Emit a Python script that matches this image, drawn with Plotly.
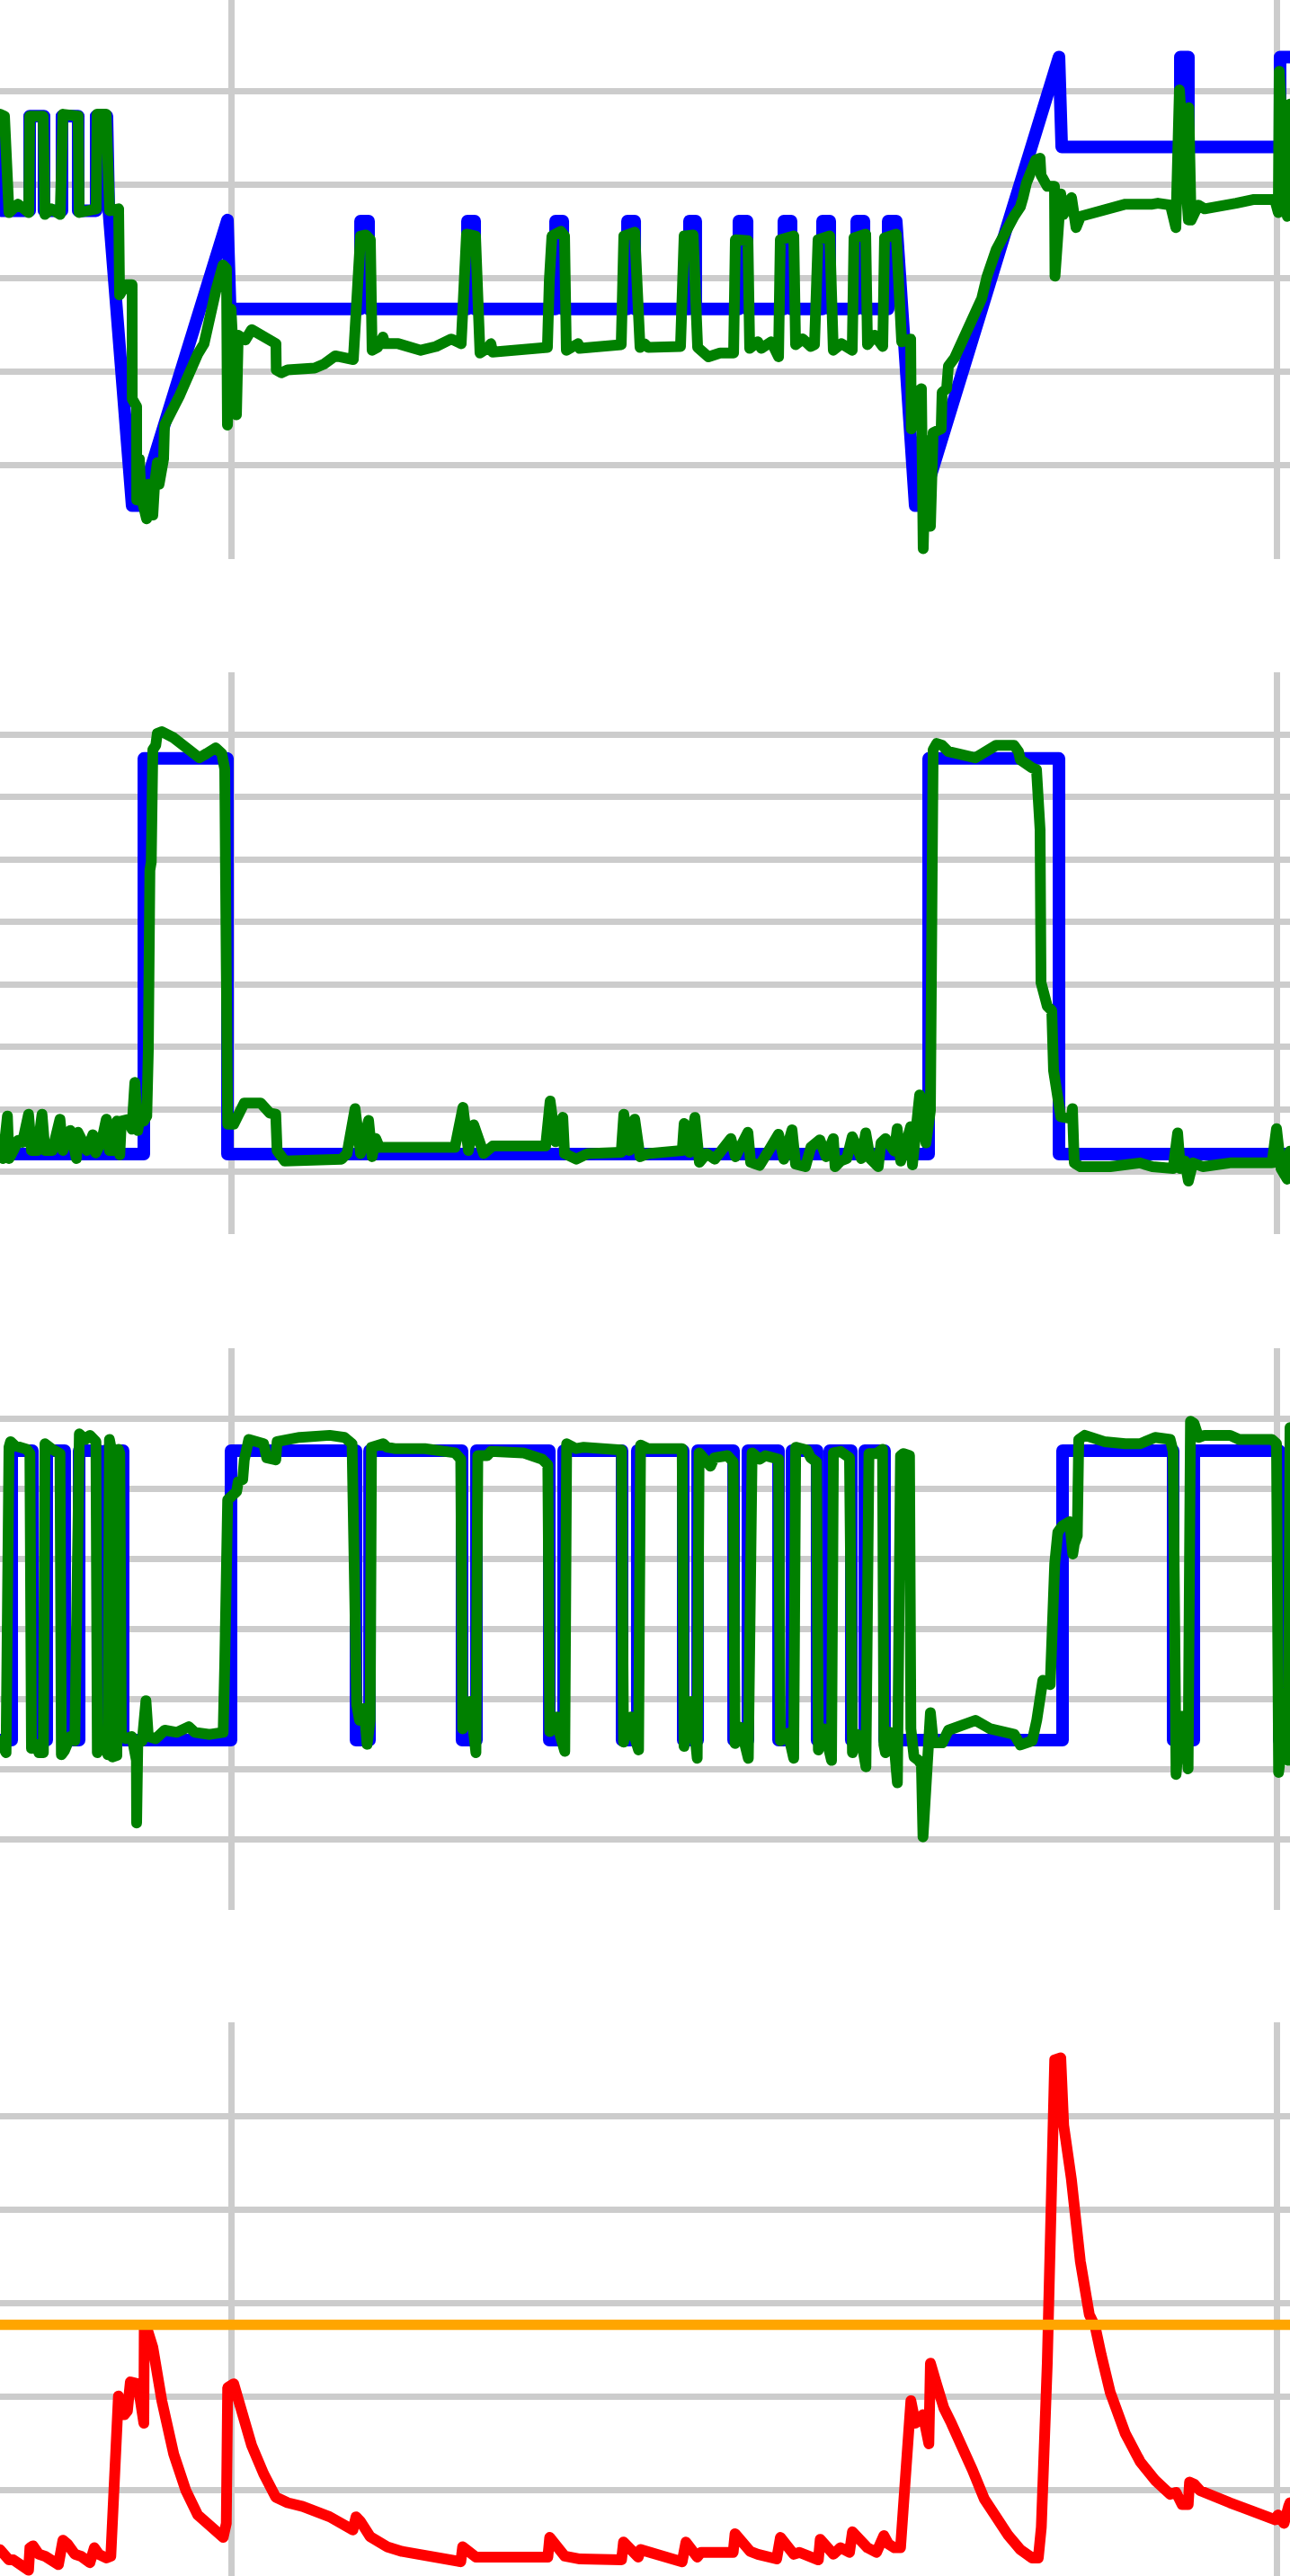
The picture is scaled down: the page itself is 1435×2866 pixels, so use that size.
import plotly.graph_objects as go

# ---------------- time axis (s) ----------------
T_RANGE = [77.82, 201.23]

# ---------------- panel 1 : setpoint (blue) and response (green) ----------------
setpoint1 = [(77.82, 4.73), (77.91, 3.72), (80.66, 3.72), (80.66, 4.73), (82.03, 4.73), (82.03, 3.72),
             (83.75, 3.72), (83.75, 4.73), (85.30, 4.73), (85.30, 3.72), (87.02, 3.72), (87.02, 4.73),
             (88.05, 4.73), (88.23, 3.72), (90.46, 0.57), (91.15, 0.57), (99.58, 3.62), (99.84, 2.67),
             (112.31, 2.67), (112.31, 3.61), (113.08, 3.61), (113.08, 2.67), (122.54, 2.67), (122.54, 3.61),
             (123.23, 3.61), (123.23, 2.67), (130.97, 2.67), (130.97, 3.61), (131.66, 3.61), (131.66, 2.67),
             (137.85, 2.67), (137.85, 3.61), (138.54, 3.61), (138.54, 2.67), (143.78, 2.67), (143.78, 3.61),
             (144.38, 3.61), (144.38, 2.67), (148.51, 2.67), (148.51, 3.61), (149.29, 3.61), (149.29, 2.67),
             (152.81, 2.67), (152.81, 3.61), (153.50, 3.61), (153.50, 2.67), (156.51, 2.67), (156.51, 3.61),
             (157.20, 3.61), (157.20, 2.67), (159.78, 2.67), (159.78, 3.61), (160.47, 3.61), (160.47, 2.67),
             (162.79, 2.67), (162.79, 3.61), (163.56, 3.61), (165.37, 0.57), (165.97, 0.57), (179.13, 5.36),
             (179.39, 4.40), (190.74, 4.40), (190.74, 5.36), (191.51, 5.36), (191.51, 4.40), (200.28, 4.40),
             (200.28, 5.36), (201.23, 5.36)]

t_resp1 = [77.82, 78.25, 78.68, 79.54, 80.57, 80.66, 81.95, 82.12, 82.72, 83.58,
           83.84, 85.30, 85.39, 86.42, 87.02, 87.11, 87.97, 88.31, 89.17, 89.26,
           89.86, 90.46, 90.47, 90.89, 90.90, 91.15, 91.32, 91.84, 92.01, 92.44,
           92.61, 92.87, 93.04, 93.47, 93.56, 93.99, 95.02, 96.74, 97.34, 98.46,
           99.15, 99.49, 99.58, 99.92, 100.44, 100.61, 101.30, 101.90, 102.76, 103.61,
           104.22, 104.25, 104.74, 105.34, 107.92, 108.78, 109.90, 111.62, 111.96, 112.31,
           112.82, 113.25, 113.42, 113.94, 114.46, 114.63, 115.92, 118.07, 119.53, 120.99,
           121.94, 122.11, 122.45, 123.31, 123.74, 124.43, 124.78, 124.95, 129.33, 130.19,
           130.37, 130.62, 131.48, 131.83, 132.00, 133.12, 133.29, 137.25, 137.50, 138.02,
           138.54, 139.05, 139.48, 139.83, 142.92, 143.27, 144.13, 144.56, 145.59, 146.71,
           148.00, 148.17, 149.37, 149.54, 150.32, 150.66, 151.61, 152.30, 152.47, 153.76,
           153.93, 154.62, 155.39, 155.74, 156.08, 157.20, 157.54, 158.32, 159.35, 159.52,
           160.64, 160.81, 161.50, 162.27, 162.44, 163.56, 164.08, 164.94, 165.00, 165.54,
           165.97, 166.14, 166.40, 166.83, 167.09, 167.86, 167.95, 168.38, 168.55, 169.15,
           170.87, 171.73, 172.25, 173.11, 174.83, 175.43, 175.69, 176.03, 176.89, 177.32,
           177.41, 178.01, 178.70, 178.75, 179.30, 179.56, 180.33, 180.76, 181.19, 182.57,
           185.49, 188.07, 188.59, 189.79, 190.31, 190.65, 191.51, 191.55, 191.77, 192.46,
           193.06, 196.07, 197.79, 199.77, 200.11, 200.20, 200.97, 201.23]
v_resp1 = [4.75, 4.73, 3.70, 3.79, 3.70, 4.73, 4.73, 3.68, 3.74, 3.68,
           4.75, 4.73, 3.70, 3.74, 3.74, 4.75, 4.75, 3.72, 3.74, 2.82,
           2.93, 2.93, 1.71, 1.63, 0.63, 1.07, 0.67, 0.43, 0.80, 0.47,
           0.80, 1.03, 0.80, 1.07, 1.43, 1.51, 1.75, 2.19, 2.30, 2.86,
           3.14, 3.10, 1.43, 2.67, 1.54, 2.39, 2.34, 2.45, 2.39, 2.36,
           2.30, 2.02, 1.99, 2.02, 2.04, 2.08, 2.17, 2.13, 3.06, 3.45,
           3.46, 3.41, 2.23, 2.26, 2.37, 2.30, 2.30, 2.23, 2.27, 2.35,
           2.30, 2.93, 3.47, 3.45, 2.20, 2.25, 2.30, 2.21, 2.25, 2.26,
           2.97, 3.45, 3.50, 3.45, 2.23, 2.30, 2.25, 2.29, 3.45, 3.46,
           3.49, 2.26, 2.30, 2.26, 2.27, 3.45, 3.46, 2.26, 2.16, 2.20,
           2.20, 3.41, 3.40, 2.25, 2.32, 2.25, 2.32, 2.16, 3.41, 3.45,
           2.29, 2.35, 2.27, 2.29, 3.41, 3.45, 2.23, 2.30, 2.23, 3.43,
           3.47, 2.29, 2.39, 2.27, 3.43, 3.47, 2.32, 2.35, 1.39, 1.78,
           1.82, 0.11, 1.27, 0.35, 1.35, 1.39, 1.78, 1.82, 2.06, 2.15,
           2.54, 2.78, 3.02, 3.30, 3.66, 3.76, 3.86, 4.02, 4.26, 4.28,
           4.10, 3.98, 3.98, 3.02, 3.90, 3.68, 3.86, 3.54, 3.66, 3.70,
           3.79, 3.79, 3.80, 3.78, 3.54, 5.01, 3.62, 4.82, 3.62, 3.78,
           3.74, 3.80, 3.84, 3.84, 3.70, 5.21, 3.66, 4.86]

# ---------------- panel 2 ----------------
t_cmd2 = [77.82, 91.58, 99.58, 166.66, 179.13, 201.23]
v_cmd2 = [1.28, 7.62, 1.28, 7.62, 1.28, 1.28]

t_resp2 = [77.82, 78.10, 78.53, 78.68, 79.11, 79.54, 79.97, 80.55, 80.83, 81.41,
           81.84, 82.12, 82.83, 83.26, 83.56, 83.84, 84.55, 85.13, 85.28, 86.14,
           86.70, 86.99, 87.56, 87.99, 88.29, 88.72, 89.00, 89.28, 89.43, 90.14,
           90.44, 90.72, 91.00, 91.30, 91.58, 91.86, 92.01, 92.16, 92.29, 92.44,
           92.72, 92.87, 93.30, 94.44, 95.73, 96.89, 97.60, 98.46, 99.04, 99.32,
           99.47, 99.60, 100.18, 100.76, 101.19, 102.76, 103.04, 103.62, 104.20, 104.33,
           105.06, 109.36, 110.50, 111.02, 111.79, 112.31, 113.08, 113.42, 113.77, 114.11,
           117.72, 121.34, 122.11, 122.63, 123.14, 123.57, 124.09, 124.95, 130.02, 130.45,
           130.97, 131.66, 131.83, 132.95, 134.06, 137.25, 137.50, 138.02, 138.54, 139.05,
           139.83, 143.09, 143.27, 143.78, 144.30, 144.73, 145.42, 146.19, 147.74, 148.17,
           149.37, 149.63, 150.49, 151.01, 152.30, 152.81, 153.59, 153.93, 154.88, 155.39,
           156.25, 156.85, 157.54, 157.71, 158.23, 158.83, 159.35, 159.78, 160.21, 160.64,
           161.07, 161.84, 162.10, 162.53, 162.96, 163.39, 163.65, 163.99, 164.42, 164.94,
           165.11, 165.37, 165.80, 166.40, 166.83, 167.00, 167.09, 167.43, 167.95, 168.55,
           171.13, 173.11, 174.83, 175.26, 175.43, 176.55, 176.98, 177.32, 177.41, 178.01,
           178.44, 178.61, 179.04, 179.30, 180.33, 180.42, 180.59, 181.19, 184.03, 186.87,
           188.07, 189.19, 190.05, 190.48, 190.74, 191.17, 191.51, 191.94, 192.89, 195.47,
           199.51, 199.94, 200.37, 200.97, 201.23]
v_resp2 = [1.40, 1.21, 1.89, 1.21, 1.34, 1.50, 1.47, 1.92, 1.34, 1.34,
           1.92, 1.34, 1.34, 1.59, 1.84, 1.34, 1.66, 1.21, 1.63, 1.34,
           1.59, 1.30, 1.50, 1.84, 1.34, 1.34, 1.81, 1.27, 1.81, 1.84,
           1.68, 2.43, 1.66, 1.97, 1.81, 1.89, 2.94, 5.83, 5.96, 7.76,
           7.83, 8.02, 8.05, 7.95, 7.76, 7.63, 7.70, 7.79, 7.70, 7.45,
           4.23, 1.76, 1.76, 2.02, 2.10, 2.10, 2.02, 1.94, 1.92, 1.34,
           1.17, 1.17, 1.20, 1.29, 2.01, 1.29, 1.82, 1.24, 1.53, 1.39,
           1.41, 1.39, 2.03, 1.34, 1.75, 1.58, 1.29, 1.41, 1.41, 2.13,
           1.48, 1.87, 1.29, 1.20, 1.29, 1.31, 1.92, 1.34, 1.84, 1.24,
           1.29, 1.34, 1.77, 1.31, 1.87, 1.15, 1.29, 1.20, 1.53, 1.24,
           1.63, 1.15, 1.10, 1.24, 1.60, 1.20, 1.67, 1.12, 1.08, 1.39,
           1.51, 1.24, 1.53, 1.08, 1.17, 1.21, 1.56, 1.40, 1.21, 1.62,
           1.21, 1.08, 1.46, 1.53, 1.40, 1.33, 1.69, 1.17, 1.40, 1.72,
           1.11, 1.72, 2.23, 1.46, 1.98, 5.83, 7.76, 7.86, 7.83, 7.73,
           7.63, 7.83, 7.83, 7.73, 7.60, 7.47, 7.44, 6.48, 4.03, 3.65,
           3.58, 2.62, 2.11, 1.88, 1.85, 2.01, 1.14, 1.08, 1.08, 1.14,
           1.08, 1.05, 1.05, 1.62, 1.05, 1.17, 0.85, 1.14, 1.08, 1.14,
           1.14, 1.69, 1.05, 0.88, 1.33]

# ---------------- panel 3 ----------------
t_cmd3 = [77.82, 78.94, 80.92, 82.29, 84.01, 85.39, 87.28, 87.97, 89.60, 99.92,
          111.88, 113.17, 122.02, 123.40, 130.37, 131.74, 137.33, 138.79, 143.18, 144.56,
          148.00, 149.37, 152.30, 153.59, 155.99, 157.20, 159.26, 160.55, 162.44, 179.47,
          190.05, 192.03, 200.20, 201.23]
v_cmd3 = [2.42, 6.54, 2.42, 6.54, 2.42, 6.54, 2.42, 6.54, 2.42, 6.54,
          2.42, 6.54, 2.42, 6.54, 2.42, 6.54, 2.42, 6.54, 2.42, 6.54,
          2.42, 6.54, 2.42, 6.54, 2.42, 6.54, 2.42, 6.54, 2.42, 6.54,
          2.42, 6.54, 2.42, 2.42]

t_resp3 = [77.82, 78.10, 78.40, 78.68, 78.83, 79.26, 80.40, 80.68, 80.83, 81.26,
           81.54, 81.97, 82.12, 82.83, 83.56, 83.69, 83.99, 84.55, 84.98, 85.41,
           85.99, 86.42, 87.00, 87.13, 87.56, 88.14, 88.29, 88.42, 88.57, 89.00,
           89.15, 89.28, 89.43, 89.86, 90.44, 90.87, 90.89, 91.00, 91.43, 91.78,
           92.01, 92.72, 93.58, 94.74, 95.88, 96.46, 97.88, 99.17, 99.32, 99.47,
           99.60, 100.46, 100.61, 101.04, 101.19, 101.62, 103.04, 103.34, 104.20, 104.33,
           105.06, 106.48, 109.36, 110.78, 111.50, 111.79, 111.94, 112.22, 112.65, 112.94,
           113.23, 113.36,
           113.94, 114.48, 114.84, 115.57, 118.46, 121.36, 121.90, 122.08, 122.81, 122.99,
           123.35, 123.53, 124.43, 124.79, 127.87, 129.69, 130.23, 130.41, 131.13, 131.31,
           131.85, 132.03, 132.94, 133.67, 137.28, 137.47, 138.19, 138.37, 138.91, 139.10,
           139.82, 143.08, 143.26, 143.98, 144.52, 144.70, 145.79, 146.16, 147.42, 147.96,
           148.14, 148.68, 149.41, 149.77, 150.50, 151.04, 152.30, 152.48, 153.21, 153.75,
           153.94, 155.02, 155.38, 155.93, 156.11, 156.65, 157.37, 157.55,
           158.23, 159.09, 159.37, 159.80, 160.23, 160.66, 160.95, 161.67, 162.25, 162.38,
           162.53, 162.96, 163.39, 163.67, 163.97, 164.25, 164.83, 164.96, 165.26, 165.69,
           165.97, 166.12, 166.40, 166.83, 167.11, 167.97, 168.55, 171.13, 172.56, 174.86,
           175.43, 176.57, 177.00, 177.58, 178.29, 178.44, 178.72, 179.02, 179.45, 180.16,
           180.45, 180.59, 180.88, 181.02, 181.60, 183.46, 185.47, 186.89, 188.33, 189.77,
           190.05, 190.20, 190.33, 190.77, 191.19, 191.48, 191.71, 192.05, 192.48, 193.06,
           195.49, 196.36, 199.51, 199.94, 200.14, 200.66, 201.09, 201.23]
v_resp3 = [2.41, 2.30, 2.24, 6.59, 6.67, 6.61, 6.56, 6.50, 2.30, 2.36,
           2.24, 2.24, 6.64, 6.56, 6.50, 2.21, 2.27, 2.47, 2.41, 6.78,
           6.70, 6.76, 6.67, 2.24, 2.53, 2.21, 6.70, 6.60, 2.18, 2.20,
           6.56, 6.50, 2.47, 2.44, 2.47, 2.13, 1.24, 2.36, 2.41, 2.98,
           2.47, 2.44, 2.56, 2.53, 2.61, 2.53, 2.50, 2.53, 3.50, 5.78,
           5.84, 5.96, 6.10, 6.13, 6.41, 6.70, 6.64, 6.44, 6.41, 6.67,
           6.70, 6.73, 6.76, 6.73, 6.64, 3.50, 2.93, 2.70, 2.87, 2.36,
           2.70, 6.59,
           6.62, 6.64, 6.59, 6.57, 6.57, 6.51, 6.42, 2.58, 2.97, 2.54,
           2.24, 6.47, 6.47, 6.53, 6.51, 6.42, 6.34, 2.54, 2.75, 2.54,
           2.26, 6.64, 6.57, 6.59, 6.55, 2.39, 2.75, 2.54, 2.28, 6.62,
           6.57, 6.57, 2.33, 2.97, 2.16, 6.51, 6.32, 6.44, 6.47, 6.38,
           2.37, 2.60, 2.16, 6.51, 6.42, 6.47, 6.42, 2.41, 2.52, 2.16,
           6.59, 6.55, 6.44, 6.38, 2.28, 2.58, 2.13, 6.51,
           6.53, 6.44, 2.24, 2.50, 2.41, 2.04, 6.50, 6.50, 6.56, 2.35,
           2.24, 2.53, 2.30, 1.81, 6.47, 6.50, 6.47, 2.58, 2.18, 2.13,
           2.07, 1.04, 1.90, 2.81, 2.38, 2.38, 2.56, 2.70, 2.58, 2.50,
           2.35, 2.41, 2.70, 3.27, 3.21, 4.36, 4.93, 5.38, 5.47, 5.53,
           5.07, 5.21, 5.33, 6.70, 6.76, 6.67, 6.64, 6.64, 6.73, 6.70,
           6.53, 2.70, 1.93, 2.76, 2.76, 2.01, 6.96, 6.93, 6.73, 6.76,
           6.76, 6.70, 6.70, 6.64, 1.96, 2.58, 2.13, 6.87]

# ---------------- panel 4 : temperature (red) and limit (orange) ----------------
LIMIT = 2.77
temp4 = [(77.82, 0.37), (78.68, 0.26), (79.11, 0.26), (80.55, 0.15), (80.68, 0.39), (80.98, 0.41),
         (81.54, 0.32), (82.12, 0.30), (83.41, 0.21), (83.84, 0.47), (84.27, 0.43), (84.98, 0.32),
         (85.56, 0.30), (86.42, 0.23), (86.85, 0.39), (87.28, 0.32), (87.99, 0.28), (88.42, 0.30),
         (89.15, 2.01), (89.71, 1.81), (90.01, 1.85), (90.29, 2.16), (91.00, 2.14), (91.58, 1.72),
         (91.62, 2.74), (91.86, 2.74), (92.44, 2.53), (93.30, 1.96), (94.44, 1.39), (95.60, 1.00),
         (96.74, 0.74), (97.88, 0.63), (99.17, 0.50), (99.47, 0.65), (99.60, 2.10), (100.18, 2.14),
         (100.76, 1.88), (101.90, 1.48), (103.04, 1.18), (104.20, 0.93), (105.34, 0.87), (106.78, 0.83),
         (109.36, 0.72), (110.50, 0.66), (111.58, 0.58), (111.88, 0.72), (112.31, 0.67), (113.22, 0.51),
         (113.76, 0.47), (114.84, 0.40), (116.29, 0.35), (117.74, 0.32), (119.91, 0.29), (121.90, 0.24),
         (122.08, 0.40), (122.81, 0.34), (123.35, 0.29), (123.89, 0.29), (126.79, 0.29), (130.23, 0.29),
         (130.41, 0.50), (131.13, 0.40), (131.85, 0.30), (133.31, 0.27), (137.28, 0.26), (137.47, 0.45),
         (138.19, 0.35), (138.88, 0.29), (139.10, 0.37), (140.54, 0.32), (143.08, 0.24), (143.44, 0.45),
         (144.16, 0.37), (144.52, 0.29), (144.88, 0.34), (147.96, 0.34), (148.14, 0.54), (148.86, 0.44),
         (149.59, 0.35), (150.32, 0.32), (152.12, 0.27), (152.48, 0.50), (153.21, 0.39), (153.75, 0.32),
         (154.30, 0.34), (156.11, 0.26), (156.29, 0.48), (157.19, 0.34), (157.55, 0.32), (158.23, 0.39),
         (159.09, 0.34), (159.37, 0.56), (159.80, 0.50), (160.81, 0.39), (161.67, 0.34), (162.38, 0.52),
         (162.81, 0.43), (163.39, 0.39), (163.97, 0.39), (164.40, 1.26), (164.96, 1.96), (165.39, 1.72),
         (166.12, 1.81), (166.68, 1.50), (166.83, 2.36), (167.41, 2.14), (168.12, 1.88), (168.83, 1.72),
         (169.69, 1.53), (170.85, 1.22), (171.99, 0.91), (173.13, 0.69), (174.29, 0.52), (175.43, 0.37),
         (176.57, 0.28), (177.15, 0.28), (177.44, 0.61), (178.01, 2.36), (178.72, 5.60), (179.30, 5.62),
         (179.58, 4.90), (180.31, 4.33), (181.17, 3.45), (182.03, 2.88), (182.59, 2.75), (183.17, 2.45),
         (184.03, 2.05), (185.47, 1.61), (186.89, 1.31), (188.33, 1.11), (189.77, 0.96), (190.33, 0.98),
         (190.91, 0.85), (191.49, 0.85), (191.62, 1.09), (192.05, 1.07), (192.63, 1.00), (195.49, 0.87),
         (198.37, 0.74), (199.79, 0.69), (200.08, 0.74), (200.66, 0.65), (201.09, 0.83), (201.23, 0.87)]

# ---------------- figure ----------------
BLUE, GREEN, RED, ORANGE = "#0000ff", "#008000", "#ff0000", "#ffa500"
GRID = "#cccccc"

fig = go.Figure()


def line(x, y, color, width, ax, shape="linear"):
    fig.add_trace(go.Scatter(x=list(x), y=list(y), mode="lines",
                             line=dict(color=color, width=width, shape=shape),
                             xaxis="x" + ax, yaxis="y" + ax, hoverinfo="skip"))


t_sp1, v_sp1 = zip(*setpoint1)
line(t_sp1, v_sp1, BLUE, 14, "")
line(t_resp1, v_resp1, GREEN, 12, "")

line(t_cmd2, v_cmd2, BLUE, 14, "2", shape="hv")
line(t_resp2, v_resp2, GREEN, 12, "2")

line(t_cmd3, v_cmd3, BLUE, 14, "3", shape="hv")
line(t_resp3, v_resp3, GREEN, 12, "3")

t_t4, v_t4 = zip(*temp4)
line(t_t4, v_t4, RED, 12, "4")
line(T_RANGE, [LIMIT, LIMIT], ORANGE, 11.5, "4")

H = 2866
common = dict(showgrid=True, gridcolor=GRID, gridwidth=7, zeroline=False,
              showticklabels=False, ticks="", showline=False, fixedrange=True)
xax = dict(common, range=T_RANGE, tick0=0, dtick=100, domain=[0, 1])

fig.update_layout(
    width=1435, height=H,
    margin=dict(l=0, r=0, t=0, b=0, pad=0),
    paper_bgcolor="white", plot_bgcolor="white",
    showlegend=False, template="none",
    xaxis=dict(xax, anchor="y"),
    xaxis2=dict(xax, anchor="y2"),
    xaxis3=dict(xax, anchor="y3"),
    xaxis4=dict(xax, anchor="y4"),
    yaxis=dict(common, anchor="x", domain=[1 - 622 / H, 1], range=[0, 5.97], tick0=0, dtick=1),
    yaxis2=dict(common, anchor="x2", domain=[1 - 1373 / H, 1 - 748 / H], range=[0, 9], tick0=0, dtick=1),
    yaxis3=dict(common, anchor="x3", domain=[1 - 2125 / H, 1 - 1500 / H], range=[0, 8], tick0=0, dtick=1),
    yaxis4=dict(common, anchor="x4", domain=[0, 1 - 2250 / H], range=[0.088, 6], tick0=0, dtick=1),
)

POST = (
    "document.body.style.margin='0';"
    "document.body.style.overflow='hidden';"
    "var s=document.createElement('style');"
    "s.textContent='.js-line{stroke-linejoin:round !important;stroke-linecap:round !important;}';"
    "document.head.appendChild(s);"
)

fig.write_html("out.html", config={"displayModeBar": False, "staticPlot": True},
               post_script=POST)
